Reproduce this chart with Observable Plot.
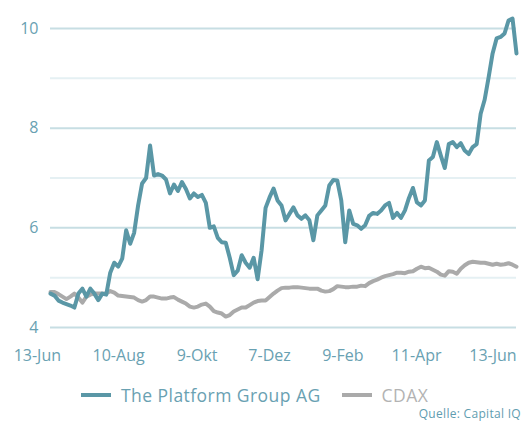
<!DOCTYPE html>
<html>
<head>
<meta charset="utf-8">
<script src="https://cdn.jsdelivr.net/npm/d3@7"></script>
<script src="https://cdn.jsdelivr.net/npm/@observablehq/plot@0.6"></script>
<style>
  html, body { margin: 0; padding: 0; background: #fff; overflow: hidden; }
  body { width: 523px; height: 423px; position: relative; font-family: "Open Sans", sans-serif; }
  #chart { position: absolute; left: 0; top: 0; }
  #legend { position: absolute; left: 81px; top: 383px; height: 24px; display: flex; align-items: center; font-size: 17.5px; letter-spacing: 0.45px; white-space: nowrap; }
  .sw { display: inline-block; width: 30px; height: 4px; margin-right: 10px; }
  .item { display: flex; align-items: center; margin-right: 21px; }
  #caption { position: absolute; right: 2px; top: 405px; font-size: 12px; letter-spacing: 0.3px; color: #5f9db0; white-space: nowrap; }
</style>
</head>
<body>
<div id="chart"></div>
<div id="legend"></div>
<div id="caption">Quelle: Capital IQ</div>
<script>
// Series (index = trading-day sample, 13-Jun to 13-Jun)
const seriesNames = ["The Platform Group AG", "CDAX"];
const platformGroup = [
  4.68, 4.64, 4.54, 4.50, 4.47, 4.44, 4.40, 4.68, 4.78, 4.62,
  4.78, 4.68, 4.55, 4.68, 4.66, 5.10, 5.30, 5.22, 5.38, 5.95,
  5.68, 5.90, 6.45, 6.89, 7.00, 7.65, 7.05, 7.08, 7.05, 6.97,
  6.69, 6.87, 6.74, 6.92, 6.78, 6.59, 6.69, 6.62, 6.66, 6.50,
  6.00, 6.03, 5.80, 5.71, 5.70, 5.40, 5.05, 5.14, 5.45, 5.30,
  5.20, 5.40, 4.97, 5.55, 6.40, 6.61, 6.79, 6.55, 6.45, 6.15,
  6.28, 6.41, 6.25, 6.18, 6.25, 6.15, 5.75, 6.25, 6.35, 6.45,
  6.85, 6.96, 6.95, 6.55, 5.71, 6.35, 6.08, 6.05, 5.98, 6.05,
  6.24, 6.30, 6.28, 6.35, 6.45, 6.50, 6.20, 6.30, 6.20, 6.35,
  6.60, 6.80, 6.51, 6.45, 6.55, 7.35, 7.42, 7.72, 7.45, 7.20,
  7.68, 7.72, 7.62, 7.70, 7.55, 7.48, 7.62, 7.68, 8.29, 8.57,
  9.02, 9.50, 9.80, 9.83, 9.90, 10.16, 10.20, 9.50
];
const cdax = [
  4.71, 4.71, 4.67, 4.62, 4.57, 4.62, 4.68, 4.60, 4.50, 4.62,
  4.66, 4.68, 4.68, 4.68, 4.69, 4.73, 4.70, 4.64, 4.63, 4.62,
  4.61, 4.60, 4.55, 4.52, 4.55, 4.62, 4.62, 4.60, 4.58, 4.58,
  4.60, 4.61, 4.56, 4.52, 4.48, 4.42, 4.40, 4.42, 4.46, 4.48,
  4.42, 4.33, 4.30, 4.28, 4.22, 4.25, 4.32, 4.36, 4.40, 4.40,
  4.45, 4.50, 4.53, 4.54, 4.54, 4.61, 4.68, 4.74, 4.79, 4.80,
  4.80, 4.81, 4.81, 4.80, 4.79, 4.78, 4.78, 4.78, 4.74, 4.72,
  4.73, 4.77, 4.83, 4.82, 4.81, 4.81, 4.82, 4.82, 4.84, 4.83,
  4.89, 4.93, 4.96, 5.00, 5.03, 5.05, 5.07, 5.10, 5.10, 5.09,
  5.12, 5.13, 5.18, 5.22, 5.19, 5.20, 5.16, 5.12, 5.06, 5.04,
  5.13, 5.12, 5.08, 5.18, 5.25, 5.30, 5.32, 5.31, 5.30, 5.30,
  5.28, 5.26, 5.28, 5.26, 5.27, 5.29, 5.26, 5.22
];
const xTickLabels = ["13-Jun", "10-Aug", "9-Okt", "7-Dez", "9-Feb", "11-Apr", "13-Jun"];
const xTickPos = [-3.3, 17.1, 36.8, 55.0, 73.4, 91.9, 111.1];
const yMajorTicks = [4, 6, 8, 10];
const yMinorTicks = [5, 7, 9];

const colors = ["#5a97a6", "#aaaaaa"];
const labelColor = "#69a1b2";

const rows = [];
platformGroup.forEach((v, i) => rows.push({i, v, s: seriesNames[0]}));
cdax.forEach((v, i) => rows.push({i, v, s: seriesNames[1]}));

const chart = Plot.plot({
  width: 523,
  height: 375,
  marginLeft: 50,
  marginRight: 7,
  marginTop: 28,
  marginBottom: 48,
  style: {fontFamily: "Open Sans, sans-serif", background: "transparent", overflow: "visible"},
  x: {domain: [0, platformGroup.length - 1], axis: null},
  y: {domain: [4, 10], axis: null},
  color: {domain: seriesNames, range: colors},
  marks: [
    Plot.ruleY(yMinorTicks, {stroke: "#e5f0f3", strokeWidth: 2}),
    Plot.ruleY(yMajorTicks, {stroke: "#c7dee3", strokeWidth: 2}),
    Plot.text(yMajorTicks, {y: d => d, frameAnchor: "left", textAnchor: "end", dx: -12, text: d => String(d), fill: labelColor, fontSize: 16}),
    Plot.text(xTickPos, {x: d => d, frameAnchor: "bottom", dy: 33, text: (d, i) => xTickLabels[i], fill: labelColor, fontSize: 16, letterSpacing: 0.3}),
    Plot.line(rows.filter(d => d.s === seriesNames[1]), {x: "i", y: "v", stroke: "s", strokeWidth: 4, strokeLinejoin: "round"}),
    Plot.line(rows.filter(d => d.s === seriesNames[0]), {x: "i", y: "v", stroke: "s", strokeWidth: 4, strokeLinejoin: "round"})
  ]
});
document.getElementById("chart").appendChild(chart);

const legend = document.getElementById("legend");
seriesNames.forEach((name, k) => {
  const item = document.createElement("div");
  item.className = "item";
  const sw = document.createElement("span");
  sw.className = "sw";
  sw.style.background = colors[k];
  const t = document.createElement("span");
  t.textContent = name;
  t.style.color = k === 0 ? labelColor : "#b3b3b3";
  item.appendChild(sw);
  item.appendChild(t);
  legend.appendChild(item);
});
</script>
</body>
</html>
